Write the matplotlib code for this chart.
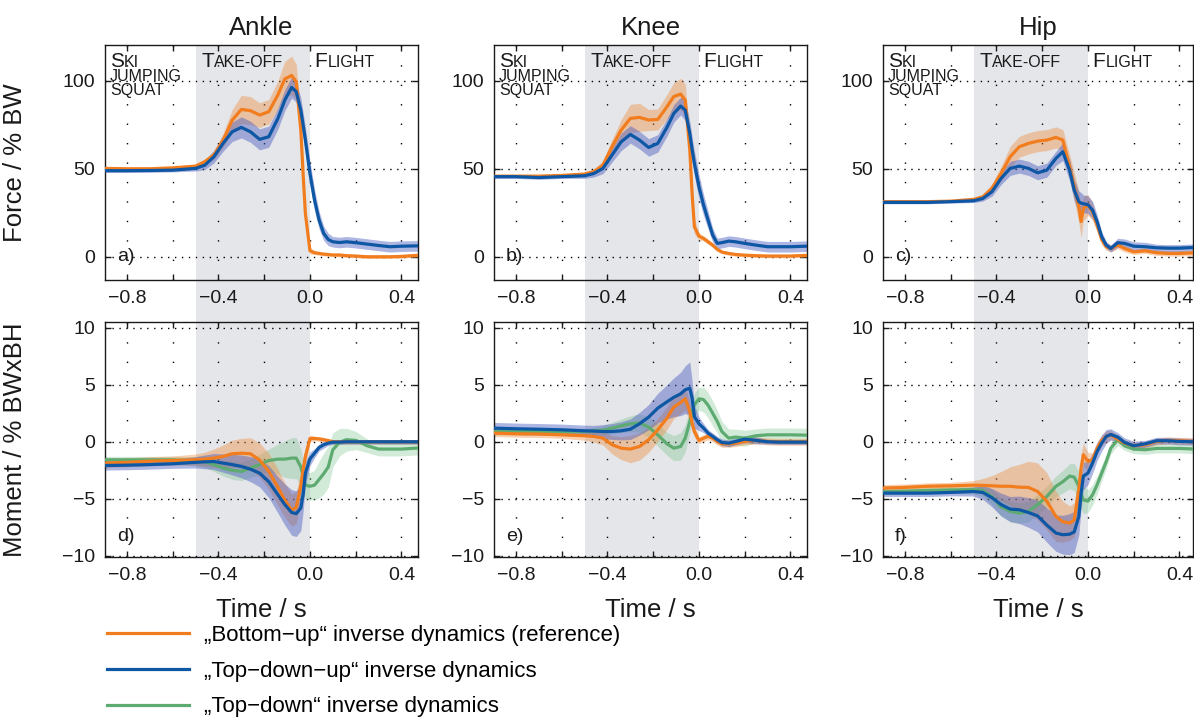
#!/usr/bin/env python

import matplotlib.pyplot as plt
from matplotlib.lines import Line2D
from matplotlib.offsetbox import TextArea, HPacker, AnnotationBbox
from matplotlib.ticker import MultipleLocator

plt.rcParams['font.family'] = ['Liberation Sans', 'DejaVu Sans']

# common time base (s)
t = [-0.9, -0.8, -0.7, -0.6, -0.5, -0.46, -0.42, -0.38, -0.34, -0.30,
     -0.26, -0.22, -0.18, -0.14, -0.11, -0.08, -0.06, -0.04, -0.03, -0.02,
     0.0, 0.02, 0.04, 0.06, 0.08, 0.10, 0.13, 0.16, 0.20, 0.25,
     0.30, 0.35, 0.40, 0.47]

# ---- joint forces (% BW) ----
ankle_force_bu = [50.2, 50.0, 50.0, 50.5, 51.5, 54.0, 57.8, 66.0, 77.6, 83.7,
                  83.0, 80.5, 82.4, 92.0, 101.0, 103.0, 99.4, 72.0, 47.0, 24.6,
                  3.4, 2.3, 1.9, 1.5, 1.3, 1.0, 1.0, 0.6, 0.4, 0.0,
                  0.0, 0.0, 0.2, 0.8]
ankle_force_bu_sd = [0.5, 0.5, 0.5, 0.8, 1.0, 1.5, 2.5, 4.0, 6.0, 8.0,
                     8.0, 7.0, 7.0, 8.0, 10.0, 11.0, 10.0, 8.0, 6.0, 4.0,
                     2.0, 1.0, 1.0, 1.0, 1.0, 1.0, 1.0, 1.0, 1.0, 1.0,
                     1.0, 1.0, 1.0, 1.0]
ankle_force_tdu = [48.9, 48.9, 49.0, 49.2, 50.2, 52.0, 56.8, 64.4, 71.0, 73.5,
                   71.0, 66.7, 68.2, 78.6, 89.0, 96.2, 93.8, 83.3, 75.0, 66.3,
                   47.3, 32.2, 20.8, 13.3, 9.8, 8.5, 8.1, 8.5, 8.0, 7.2,
                   6.4, 5.7, 6.0, 6.2]
ankle_force_tdu_sd = [1.0, 1.0, 1.0, 1.0, 1.5, 2.5, 3.5, 4.5, 5.5, 6.0,
                      6.0, 6.0, 6.0, 6.0, 6.0, 6.0, 6.0, 7.0, 7.0, 7.0,
                      7.0, 6.0, 5.0, 4.0, 3.5, 3.0, 3.0, 3.0, 3.0, 3.0,
                      3.0, 3.0, 3.0, 3.0]

knee_force_bu = [45.8, 45.8, 45.8, 46.2, 47.0, 48.3, 52.0, 62.5, 72.0, 78.6,
                 79.2, 77.7, 78.0, 85.2, 91.0, 92.4, 89.0, 60.6, 36.0, 17.0,
                 11.7, 10.4, 8.5, 6.6, 4.2, 2.7, 1.9, 1.3, 0.9, 0.6,
                 0.4, 0.4, 0.4, 0.8]
knee_force_bu_sd = [0.5, 0.5, 0.5, 0.8, 1.0, 1.5, 2.5, 4.0, 6.0, 8.0,
                    8.0, 6.0, 6.0, 7.0, 8.0, 9.0, 9.0, 8.0, 6.0, 4.0,
                    2.0, 1.5, 1.5, 1.2, 1.0, 1.0, 1.0, 1.0, 1.0, 1.0,
                    1.0, 1.0, 1.0, 1.0]
knee_force_tdu = [45.5, 45.5, 45.0, 45.5, 46.0, 47.3, 50.2, 57.8, 65.3, 69.5,
                  66.3, 62.1, 64.4, 73.5, 81.4, 85.6, 83.3, 70.0, 61.0, 53.0,
                  39.8, 29.4, 20.8, 12.3, 7.6, 8.0, 8.9, 8.5, 7.6, 6.6,
                  5.7, 5.7, 5.7, 6.0]
knee_force_tdu_sd = [1.0, 1.0, 1.0, 1.0, 1.5, 2.0, 3.0, 4.0, 5.0, 5.0,
                     5.0, 5.0, 5.0, 5.0, 5.0, 5.0, 6.0, 7.0, 7.0, 7.0,
                     7.0, 6.0, 5.0, 4.0, 3.0, 3.0, 3.0, 3.0, 3.0, 3.0,
                     3.0, 3.0, 3.0, 3.0]

hip_force_bu = [31.3, 31.3, 31.3, 31.6, 32.6, 34.0, 38.8, 47.3, 56.8, 62.5,
                64.4, 65.7, 66.3, 67.8, 66.3, 51.0, 39.8, 28.4, 20.0, 27.5,
                29.4, 25.6, 18.0, 9.8, 5.7, 4.7, 6.6, 4.7, 2.8, 3.4,
                2.3, 1.9, 1.9, 2.3]
hip_force_bu_sd = [0.5, 0.5, 0.5, 0.5, 1.0, 1.5, 2.5, 4.0, 6.0, 6.0,
                   6.0, 6.0, 6.0, 6.0, 6.0, 7.0, 8.0, 9.0, 9.0, 7.0,
                   6.0, 5.0, 4.0, 3.0, 2.0, 2.0, 2.0, 2.0, 1.5, 1.5,
                   1.5, 1.5, 1.5, 1.5]
hip_force_tdu = [30.9, 30.9, 30.9, 31.3, 31.8, 33.1, 36.9, 44.5, 50.2, 51.5,
                 50.2, 47.7, 49.2, 55.9, 59.7, 49.0, 37.9, 31.3, 30.5, 30.1,
                 29.6, 26.5, 19.9, 11.4, 6.6, 4.7, 8.0, 7.6, 6.0, 5.7,
                 5.1, 4.9, 4.9, 5.3]
hip_force_tdu_sd = [0.8, 0.8, 0.8, 0.8, 1.0, 1.5, 2.5, 3.5, 4.0, 4.0,
                    4.0, 4.0, 4.0, 4.0, 5.0, 6.0, 6.0, 6.0, 6.0, 5.0,
                    5.0, 5.0, 4.0, 3.0, 2.0, 2.0, 2.5, 2.5, 2.5, 2.5,
                    2.0, 2.0, 2.0, 2.0]

# ---- joint moments (% BW x BH) ----
ankle_moment_bu = [-1.87, -1.80, -1.70, -1.64, -1.58, -1.52, -1.43, -1.29, -1.05, -1.00,
                   -1.05, -1.60, -2.60, -4.00, -5.10, -6.00, -5.76, -3.90, -2.46, -1.29,
                   0.29, 0.29, 0.25, 0.18, 0.10, 0.00, 0.00, 0.00, 0.00, 0.00,
                   0.00, 0.00, 0.00, 0.00]
ankle_moment_bu_sd = [0.4, 0.4, 0.4, 0.4, 0.5, 0.6, 0.8, 1.0, 1.2, 1.3,
                      1.4, 1.5, 1.6, 1.6, 1.5, 1.4, 1.4, 1.2, 1.0, 0.8,
                      0.3, 0.2, 0.2, 0.2, 0.2, 0.2, 0.2, 0.2, 0.2, 0.2,
                      0.2, 0.2, 0.2, 0.2]
ankle_moment_tdu = [-2.08, -2.05, -2.00, -1.93, -1.80, -1.76, -1.73, -1.87, -2.00, -2.16,
                    -2.40, -2.75, -3.50, -4.65, -5.50, -6.20, -6.30, -5.80, -4.65, -2.75,
                    -1.50, -1.00, -0.50, -0.26, -0.12, -0.03, -0.03, 0.00, 0.00, 0.00,
                    0.00, 0.00, 0.00, 0.00]
ankle_moment_tdu_sd = [0.4, 0.4, 0.4, 0.4, 0.5, 0.6, 0.7, 0.8, 0.9, 1.0,
                       1.1, 1.2, 1.4, 1.6, 1.8, 2.0, 2.0, 2.0, 1.5, 1.0,
                       0.6, 0.4, 0.3, 0.3, 0.2, 0.2, 0.2, 0.2, 0.2, 0.2,
                       0.2, 0.2, 0.2, 0.2]
ankle_moment_td = [-1.58, -1.58, -1.58, -1.58, -1.70, -1.75, -2.00, -2.30, -2.50, -2.60,
                   -2.30, -2.00, -1.64, -1.52, -1.52, -1.43, -1.43, -2.20, -3.00, -3.80,
                   -3.90, -3.80, -3.30, -2.80, -2.20, -0.70, -0.03, 0.18, 0.12, -0.35,
                   -0.64, -0.64, -0.64, -0.55]
ankle_moment_td_sd = [0.3, 0.3, 0.3, 0.3, 0.4, 0.5, 0.6, 0.7, 0.8, 0.8,
                      0.8, 0.9, 1.0, 1.3, 1.6, 1.8, 1.8, 1.6, 1.4, 1.2,
                      1.2, 1.3, 1.6, 1.8, 1.8, 1.5, 1.2, 1.0, 0.8, 0.6,
                      0.6, 0.6, 0.6, 0.6]

knee_moment_bu = [0.76, 0.70, 0.68, 0.61, 0.53, 0.47, 0.32, -0.26, -0.56, -0.64,
                  -0.41, 0.18, 1.05, 2.07, 3.04, 3.45, 3.77, 2.66, 1.64, 0.90,
                  0.12, 0.32, 0.47, 0.32, 0.03, -0.18, -0.18, -0.12, 0.03, 0.12,
                  0.03, 0.00, 0.00, 0.00]
knee_moment_bu_sd = [0.3, 0.3, 0.3, 0.3, 0.4, 0.5, 0.6, 0.8, 1.0, 1.2,
                     1.2, 1.1, 1.0, 1.0, 1.0, 1.0, 1.0, 0.9, 0.7, 0.5,
                     0.3, 0.3, 0.3, 0.3, 0.3, 0.3, 0.3, 0.3, 0.3, 0.3,
                     0.3, 0.3, 0.3, 0.3]
knee_moment_tdu = [1.20, 1.14, 1.10, 1.05, 0.96, 0.94, 0.90, 0.90, 0.96, 1.10,
                   1.58, 2.16, 2.95, 3.50, 3.90, 4.20, 4.56, 4.70, 3.83, 2.20,
                   1.58, 1.20, 0.76, 0.47, 0.18, -0.06, -0.12, 0.03, 0.23, 0.12,
                   0.00, -0.03, -0.03, -0.03]
knee_moment_tdu_sd = [0.5, 0.5, 0.5, 0.5, 0.5, 0.5, 0.6, 0.7, 0.8, 0.9,
                      1.0, 1.1, 1.3, 1.5, 1.7, 1.9, 2.1, 2.3, 1.5, 1.0,
                      0.6, 0.4, 0.3, 0.3, 0.3, 0.3, 0.3, 0.3, 0.3, 0.3,
                      0.2, 0.2, 0.2, 0.2]
knee_moment_td = [0.90, 0.90, 0.90, 0.90, 0.90, 0.95, 1.00, 1.20, 1.40, 1.58,
                  1.64, 1.29, 0.61, -0.18, -0.56, -0.41, 0.32, 1.78, 2.66, 3.25,
                  3.77, 3.70, 3.20, 2.50, 1.78, 0.90, 0.32, 0.41, 0.32, 0.53,
                  0.61, 0.61, 0.61, 0.58]
knee_moment_td_sd = [0.3, 0.3, 0.3, 0.3, 0.3, 0.3, 0.4, 0.5, 0.6, 0.7,
                     0.8, 0.9, 1.0, 1.0, 1.1, 1.2, 1.2, 1.0, 1.0, 1.0,
                     1.0, 1.1, 1.1, 1.1, 1.0, 0.9, 0.8, 0.7, 0.7, 0.6,
                     0.6, 0.6, 0.6, 0.6]

hip_moment_bu = [-4.06, -4.00, -3.90, -3.86, -3.80, -3.82, -3.86, -3.90, -3.90, -3.98,
                 -4.00, -4.36, -5.20, -6.55, -7.00, -7.13, -6.84, -4.20, -2.30, -1.14,
                 -1.73, -1.58, -0.56, 0.12, 0.47, 0.61, 0.23, -0.12, -0.35, -0.26,
                 0.03, 0.12, 0.09, 0.03]
hip_moment_bu_sd = [0.3, 0.3, 0.3, 0.3, 0.4, 0.6, 0.9, 1.3, 1.7, 2.0,
                    2.3, 2.5, 2.5, 2.2, 1.8, 1.5, 1.5, 1.5, 1.3, 1.0,
                    0.8, 0.6, 0.5, 0.5, 0.5, 0.4, 0.3, 0.3, 0.3, 0.3,
                    0.3, 0.3, 0.3, 0.3]
hip_moment_tdu = [-4.50, -4.50, -4.50, -4.44, -4.36, -4.44, -4.90, -5.50, -5.90, -5.96,
                  -6.20, -6.50, -7.30, -8.00, -8.15, -8.10, -7.90, -6.55, -4.50, -3.00,
                  -2.75, -1.87, -0.85, -0.12, 0.47, 0.64, 0.41, -0.06, -0.35, -0.18,
                  0.09, 0.09, 0.03, 0.00]
hip_moment_tdu_sd = [0.3, 0.3, 0.3, 0.3, 0.4, 0.6, 0.8, 1.0, 1.1, 1.2,
                     1.3, 1.4, 1.5, 1.6, 1.7, 1.8, 1.8, 1.6, 1.4, 1.2,
                     1.0, 0.9, 0.8, 0.7, 0.6, 0.5, 0.4, 0.4, 0.4, 0.3,
                     0.3, 0.3, 0.3, 0.3]
hip_moment_td = [-4.36, -4.33, -4.27, -4.22, -4.20, -4.27, -4.80, -5.70, -6.10, -6.26,
                 -6.10, -5.50, -4.80, -3.90, -3.50, -3.00, -3.10, -3.90, -4.60, -5.10,
                 -5.20, -4.65, -3.77, -2.75, -1.73, -0.56, 0.18, -0.35, -0.64, -0.70,
                 -0.58, -0.58, -0.58, -0.64]
hip_moment_td_sd = [0.3, 0.3, 0.3, 0.3, 0.4, 0.5, 0.7, 0.8, 0.9, 0.9,
                    0.9, 0.9, 0.9, 0.9, 1.0, 1.1, 1.2, 1.3, 1.3, 1.2,
                    1.0, 0.9, 0.8, 0.7, 0.6, 0.5, 0.5, 0.4, 0.4, 0.4,
                    0.4, 0.4, 0.4, 0.4]

joints = ['Ankle', 'Knee', 'Hip']
panel_letters = [['a)', 'b)', 'c)'], ['d)', 'e)', 'f)']]
legend_labels = ['\u201eBottom\u2212up\u201c inverse dynamics (reference)',
                 '\u201eTop\u2212down\u2212up\u201c inverse dynamics',
                 '\u201eTop\u2212down\u201c inverse dynamics']

# colours: line, band
c_bu = ('#f27d1e', '#f08a3c')
c_tdu = ('#0d57a4', '#4a5cc0')
c_td = ('#5eab72', '#6cbb7e')
shade = '#e4e6e9'

# series per panel: (mean, sd, colours, band alpha)
force_series = [
    [(ankle_force_bu, ankle_force_bu_sd, c_bu, 0.4), (ankle_force_tdu, ankle_force_tdu_sd, c_tdu, 0.45)],
    [(knee_force_bu, knee_force_bu_sd, c_bu, 0.4), (knee_force_tdu, knee_force_tdu_sd, c_tdu, 0.45)],
    [(hip_force_bu, hip_force_bu_sd, c_bu, 0.4), (hip_force_tdu, hip_force_tdu_sd, c_tdu, 0.45)],
]
moment_series = [
    [(ankle_moment_td, ankle_moment_td_sd, c_td, 0.3), (ankle_moment_bu, ankle_moment_bu_sd, c_bu, 0.4),
     (ankle_moment_tdu, ankle_moment_tdu_sd, c_tdu, 0.45)],
    [(knee_moment_td, knee_moment_td_sd, c_td, 0.3), (knee_moment_bu, knee_moment_bu_sd, c_bu, 0.4),
     (knee_moment_tdu, knee_moment_tdu_sd, c_tdu, 0.45)],
    [(hip_moment_td, hip_moment_td_sd, c_td, 0.3), (hip_moment_bu, hip_moment_bu_sd, c_bu, 0.4),
     (hip_moment_tdu, hip_moment_tdu_sd, c_tdu, 0.45)],
]

W, H = 1194, 720
fig = plt.figure(figsize=(W / 100, H / 100), dpi=100)

col_left = [105, 494, 883]
col_width = [313, 313, 310]
row_top = [45, 322]
ax_h = 235
px_per_s = 228.75
row_ylim = [(-13.2, 120.3), (-10.1, 10.5)]
row_yticks = [[0, 50, 100], [-10, -5, 0, 5, 10]]


def small_caps(ax, x, y, word, big=15, small=11.5):
    first = TextArea(word[0], textprops=dict(fontsize=big, color='#1a1a1a'))
    rest = TextArea(word[1:].upper(), textprops=dict(fontsize=small, color='#1a1a1a'))
    box = HPacker(children=[first, rest], align='baseline', pad=0, sep=0)
    ab = AnnotationBbox(box, (x, y), xycoords=ax.get_xaxis_transform(),
                        box_alignment=(0, 1), frameon=False, pad=0,
                        annotation_clip=False)
    ax.add_artist(ab)


for r in range(2):
    for c in range(3):
        left = col_left[c] / W
        bottom = 1 - (row_top[r] + ax_h) / H
        ax = fig.add_axes([left, bottom, col_width[c] / W, ax_h / H])
        x0 = -0.896
        ax.set_xlim(x0, x0 + col_width[c] / px_per_s)
        ax.set_ylim(*row_ylim[r])

        # take-off phase (top panel shade also fills the gap between rows)
        if r == 0:
            ax.axvspan(-0.5, 0.0, ymin=-42 / ax_h, ymax=1, color=shade, lw=0,
                       zorder=0, clip_on=False)
        else:
            ax.axvspan(-0.5, 0.0, color=shade, lw=0, zorder=0)

        # dotted grid
        for xv in [-0.8, -0.6, -0.4, -0.2, 0.0, 0.2, 0.4]:
            ax.axvline(xv, color='k', lw=1.0, ls=(0, (1, 13)), zorder=1)
        for yv in row_yticks[r]:
            ax.axhline(yv, color='k', lw=1.0, ls=(0, (1, 4)), zorder=1)

        series = force_series[c] if r == 0 else moment_series[c]
        for mean, sd, col, a in series:
            lo = [m - s for m, s in zip(mean, sd)]
            hi = [m + s for m, s in zip(mean, sd)]
            ax.fill_between(t, lo, hi, color=col[1], alpha=a, lw=0, zorder=2)
        for mean, sd, col, a in series:
            ax.plot(t, mean, color=col[0], lw=2.3, zorder=3)

        ax.set_xticks([-0.8, -0.4, 0.0, 0.4])
        ax.set_xticklabels(['\u22120.8', '\u22120.4', '0.0', '0.4'])
        ax.xaxis.set_minor_locator(MultipleLocator(0.2))
        ax.set_yticks(row_yticks[r])
        ax.tick_params(which='both', direction='in', top=True, right=True,
                       length=4, width=1, labelsize=14, colors='#1a1a1a')
        ax.tick_params(axis='x', pad=7)
        ax.tick_params(axis='y', pad=7)
        for sp in ax.spines.values():
            sp.set_linewidth(1.0)
            sp.set_color('#1a1a1a')

        ax.text(-0.845, 0.098 if r == 0 else 0.088, panel_letters[r][c],
                transform=ax.get_xaxis_transform(), fontsize=14,
                va='center', ha='left', color='#1a1a1a', zorder=4)

        if r == 0:
            ax.set_title(joints[c], fontsize=18.5, pad=7, color='#1a1a1a')
            small_caps(ax, -0.875, 0.97, 'Ski')
            ax.text(-0.875, 0.897, 'JUMPING', transform=ax.get_xaxis_transform(),
                    fontsize=11.5, va='top', ha='left', color='#1a1a1a')
            ax.text(-0.875, 0.840, 'SQUAT', transform=ax.get_xaxis_transform(),
                    fontsize=11.5, va='top', ha='left', color='#1a1a1a')
            small_caps(ax, -0.475, 0.97, 'Take-off')
            small_caps(ax, 0.02, 0.97, 'Flight')
        else:
            ax.set_xlabel('Time / s', fontsize=18.5, color='#1a1a1a')
            ax.xaxis.set_label_coords(0.5, -0.175)

        if c == 0:
            ax.set_ylabel('Force / % BW' if r == 0 else 'Moment / % BWxBH',
                          fontsize=18.5, color='#1a1a1a')
            ax.yaxis.set_label_coords(-0.25, 0.5)

handles = [Line2D([], [], color=c_bu[0], lw=2.3),
           Line2D([], [], color=c_tdu[0], lw=2.3),
           Line2D([], [], color=c_td[0], lw=2.3)]
fig.legend(handles, legend_labels, loc='upper left',
           bbox_to_anchor=(107 / W, 1 - 625 / H), frameon=False, fontsize=16,
           handlelength=3.7, handletextpad=0.68, labelspacing=0.66,
           borderpad=0, borderaxespad=0)

plt.savefig('out.png', dpi=100)
